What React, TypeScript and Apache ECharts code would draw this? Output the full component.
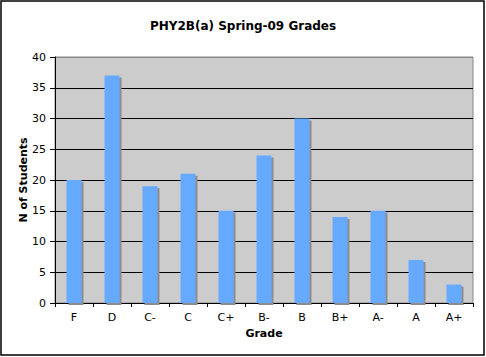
import React, { useEffect, useRef } from "react";
import * as echarts from "echarts";

const categories = ["F", "D", "C-", "C", "C+", "B-", "B", "B+", "A-", "A", "A+"];
const students = [20, 37, 19, 21, 15, 24, 30, 14, 15, 7, 3];
const titleText = "PHY2B(a) Spring-09 Grades";
const xName = "Grade";
const yName = "N of Students";

export default function App() {
  const ref = useRef<HTMLDivElement>(null);
  useEffect(() => {
    if (!ref.current) return;
    const chart = echarts.init(ref.current, null, { renderer: "svg" });
    const font = "DejaVu Sans, Verdana, sans-serif";
    const gridColors = ["#000", "#000", "#000", "#000", "#000", "#000", "#000", "#000", "#888"];
    chart.setOption({
      animation: false,
      backgroundColor: "#ffffff",
      title: {
        text: titleText,
        left: "center",
        top: 15,
        textStyle: { fontFamily: font, fontSize: 12, fontWeight: "bold", color: "#000" },
      },
      graphic: [
        {
          type: "rect",
          shape: { x: 1, y: 1, width: 483, height: 354 },
          style: { fill: "none", stroke: "#000", lineWidth: 1.5 },
          silent: true,
        },
      ],
      grid: {
        left: 55,
        top: 57,
        right: 13,
        bottom: 54,
        show: true,
        backgroundColor: "#cccccc",
        borderColor: "#888888",
        borderWidth: 1,
      },
      xAxis: {
        type: "category",
        data: categories,
        name: xName,
        nameLocation: "middle",
        nameGap: 25,
        nameMoveOverlap: false,
        nameTextStyle: { fontFamily: font, fontSize: 11, fontWeight: "bold", color: "#000" },
        axisLine: { show: true, lineStyle: { color: "#000", width: 1 } },
        axisTick: { show: true, length: 4, lineStyle: { color: "#000" } },
        axisLabel: { fontFamily: font, fontSize: 11, color: "#000", margin: 9 },
      },
      yAxis: {
        type: "value",
        min: 0,
        max: 40,
        interval: 5,
        name: yName,
        nameLocation: "middle",
        nameGap: 26,
        nameMoveOverlap: false,
        nameTextStyle: { fontFamily: font, fontSize: 11, fontWeight: "bold", color: "#000" },
        axisLine: { show: true, lineStyle: { color: "#000", width: 1 } },
        axisTick: { show: true, length: 5, lineStyle: { color: "#000" } },
        axisLabel: { fontFamily: font, fontSize: 11, color: "#000", margin: 9 },
        splitLine: { show: true, lineStyle: { color: gridColors, width: 1 } },
      },
      series: [
        {
          type: "bar",
          data: students,
          barWidth: 15,
          itemStyle: {
            color: "#66aaff",
            shadowColor: "#8c8c8c",
            shadowOffsetX: 2,
            shadowOffsetY: 2,
            shadowBlur: 0,
          },
        },
      ],
    });
    return () => chart.dispose();
  }, []);
  return (
    <div
      ref={ref}
      style={{ position: "absolute", left: 0, top: 0, width: 486, height: 357 }}
    />
  );
}
